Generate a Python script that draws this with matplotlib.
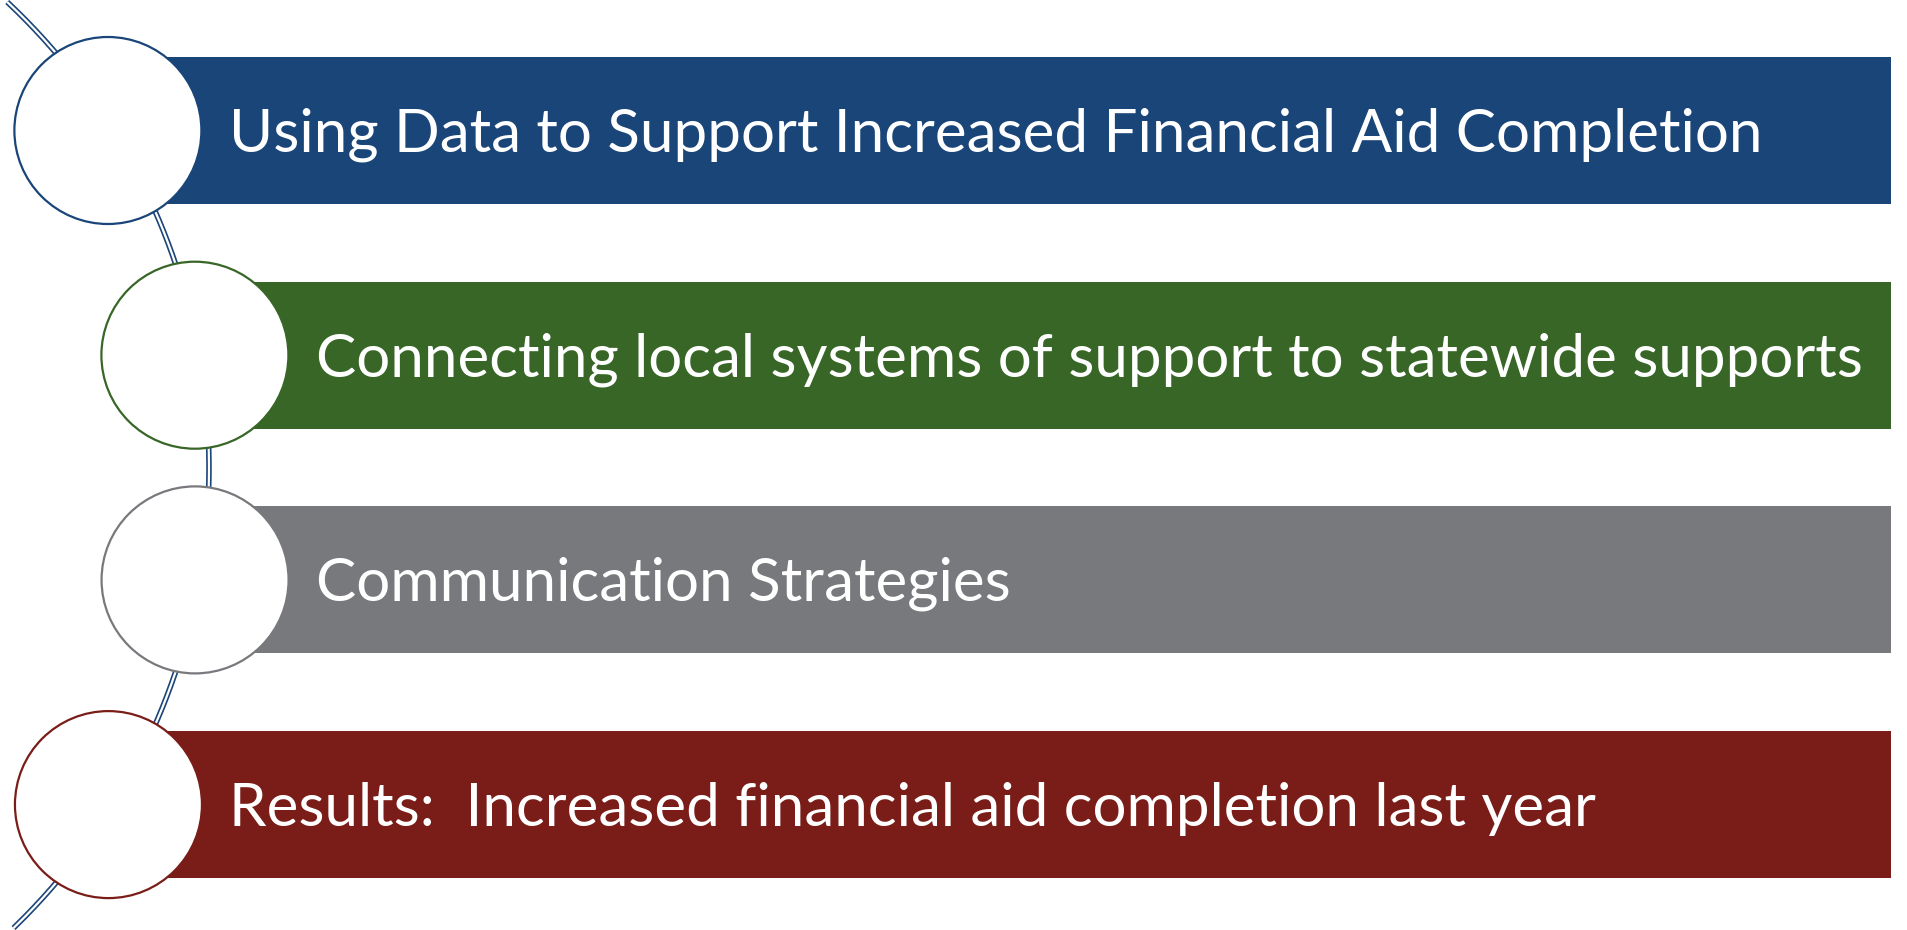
import matplotlib.pyplot as plt
import matplotlib.patches as mpatches
import numpy as np

################################################################################

labels = ['Using Data to Support Increased Financial Aid Completion',
          'Connecting local systems of support to statewide supports',
          'Communication Strategies',
          'Results:  Increased financial aid completion last year']
colors = ['#1A4578', '#376627', '#78797D', '#7A1D18']

################################################################################

W, H = 1908, 930
fig = plt.figure(figsize=(W / 100, H / 100), dpi=100)
ax = fig.add_axes([0, 0, 1, 1])
ax.set_xlim(0, W)
ax.set_ylim(H, 0)
ax.axis('off')

# big arc that links the circles
cx, cy, R = -430, 468, 639
yy = np.linspace(2, 928, 400)
xx = cx + np.sqrt(R**2 - (yy - cy)**2)
ax.plot(xx, yy, color='#1A4578', lw=4.0, solid_capstyle='butt', zorder=1)
ax.plot(xx, yy, color='white', lw=1.6, solid_capstyle='butt', zorder=1.1)

y0, step = 130.5, 224.7
bar_h, r = 147, 93.5
x_end = 1891

for i, (lab, cl) in enumerate(zip(labels, colors)):
	yc = y0 + i * step
	xc = cx + np.sqrt(635**2 - (yc - cy)**2)
	ax.add_patch(mpatches.Rectangle((xc, yc - bar_h / 2), x_end - xc, bar_h,
		facecolor=cl, edgecolor='none', zorder=2))
	ax.add_patch(mpatches.Circle((xc, yc), r, facecolor='white',
		edgecolor=cl, lw=1.6, zorder=3))
	ax.text(xc + 121, yc + 21, lab, color='white', fontsize=43.3,
		family='Lato', va='baseline', ha='left', zorder=4)

fig.savefig('out.png', dpi=100)
